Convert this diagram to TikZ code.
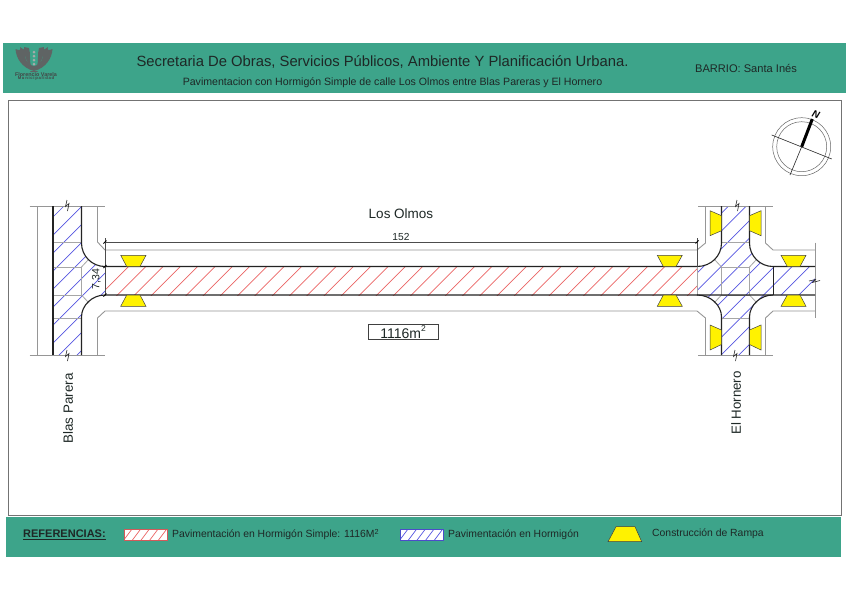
\documentclass[tikz,border=0pt]{standalone}
\usepackage{fontspec}
\setmainfont{Liberation Sans}
\definecolor{band}{RGB}{61,164,138}
\definecolor{road}{RGB}{35,35,35}
\definecolor{walk}{RGB}{150,150,150}
\definecolor{hred}{RGB}{235,100,100}
\definecolor{hblue}{RGB}{85,85,225}
\definecolor{ink}{RGB}{30,40,38}
\definecolor{logo}{RGB}{95,100,100}
\tikzset{
  bandbox/.style={fill=band,draw=none},
  roadline/.style={draw=road,line width=1.1pt},
  walkline/.style={draw=walk,line width=0.9pt},
  innerline/.style={draw=walk!85!white,line width=0.8pt},
  ramp/.style={fill=yellow,draw=black!75,line width=0.5pt,line join=miter},
  hatchred/.style={draw=hred,line width=0.7pt},
  hatchblue/.style={draw=hblue,line width=0.7pt},
  label/.style={inner sep=0pt,text=ink},
  dimline/.style={draw=black!70,line width=0.6pt},
  breakline/.style={draw=black!85,line width=0.6pt},
}
\begin{document}
\begin{tikzpicture}[x=1pt,y=-1pt]
\useasboundingbox (0,0) rectangle (849,600);
\fill[white] (0,0) rectangle (849,600);
% bands and frame
\path[bandbox] (3,42.5) rectangle (846,92.5);
\path[bandbox] (6,517) rectangle (841,556.5);
\draw[draw=black!55,line width=0.9pt] (8,100) rectangle (841,515);
% header text
\node[label,font=\fontsize{14.8}{17}\selectfont] (title) at (382.5,62) {Secretaria De Obras, Servicios Públicos, Ambiente Y Planificación Urbana.};
\node[label,font=\fontsize{10.6}{12}\selectfont] (subtitle) at (392.5,83) {Pavimentacion con Hormigón Simple de calle Los Olmos entre Blas Pareras y El Hornero};
\node[label,font=\fontsize{11.1}{13}\selectfont] (barrio) at (746,68) {BARRIO: Santa Inés};
% logo
\fill[logo] (34,66) .. controls (27,65) and (24,58) .. (25,50) .. controls (23,49) and (21,48) .. (20,47) .. controls (21,50) and (20,51) .. (15.5,49) .. controls (16,58) and (22,68) .. (34,71) .. controls (46,68) and (52,58) .. (52.5,49) .. controls (48,51) and (47,50) .. (48,47) .. controls (47,48) and (45,49) .. (43,50) .. controls (44,58) and (41,65) .. (34,66) -- cycle;
\fill[logo] (24,47) -- (29,48) .. controls (31,55) and (29,60) .. (31,66) .. controls (26,62) and (24,55) .. (24,47) -- cycle;
\fill[logo] (44,47) -- (39,48) .. controls (37,55) and (39,60) .. (37,66) .. controls (42,62) and (44,55) .. (44,47) -- cycle;
\fill[logo] (30,71) -- (38,71) -- (37,72) .. controls (35,72) and (33,72) .. (31,72) -- cycle;
\foreach \yy in {52,56,60,64}{\fill[logo!55!white] (34,\yy) circle (1.5);}
\node[label,text=logo!70!black,font=\bfseries\fontsize{5.4}{6}\selectfont] (logoa) at (36,74.5) {Florencio Varela};
\node[label,text=logo!70!black,font=\bfseries\fontsize{4.2}{5}\selectfont] (logob) at (36,78.5) {M\,u\,n\,i\,c\,i\,p\,a\,l\,i\,d\,a\,d};
% red hatch
\begin{scope}
\clip (105,266.5) rectangle (697,295);
\foreach \k in {0,...,36}{\draw[hatchred] ({395+17.3*\k-260},260) -- ({395+17.3*\k-300},300);}
\end{scope}
% left street blue hatch
\begin{scope}
\clip (53,206) -- (81.5,206) -- (81.5,243) .. controls (81.5,256) and (92,266.5) .. (105,266.5) -- (105,295) .. controls (92,295) and (81.5,305.5) .. (81.5,317) -- (81.5,355) -- (53,355) -- cycle;
\foreach \k in {-1,...,12}{\draw[hatchblue] ({288+18*\k-200},200) -- ({288+18*\k-360},360);}
\end{scope}
% right cross blue hatch
\begin{scope}
\clip (721.5,206) -- (749.5,206) -- (749.5,243) .. controls (749.5,256) and (760,266.5) .. (773,266.5) -- (815,266.5) -- (815,295) -- (773,295) .. controls (760,295) and (749.5,305.5) .. (749.5,317) -- (749.5,355) -- (721.5,355) -- (721.5,317) .. controls (721.5,305.5) and (711,295) .. (697,295) -- (697,266.5) .. controls (711,266.5) and (721.5,256) .. (721.5,243) -- cycle;
\foreach \k in {-12,...,14}{\draw[hatchblue] ({970+17.7*\k-200},200) -- ({970+17.7*\k-360},360);}
\end{scope}
% sidewalk lines
\draw[walkline] (29.5,206) -- (105,206);
\draw[walkline] (29.5,355) -- (105,355);
\draw[walkline] (37,206) -- (37,355);
\draw[walkline] (97.5,206) -- (97.5,242) -- (105,250) -- (697,250) -- (705.5,243) -- (705.5,206);
\draw[walkline] (97.5,355) -- (97.5,318) -- (105,311) -- (697,311) -- (705.5,318) -- (705.5,355);
\draw[walkline] (698,206) -- (773,206);
\draw[walkline] (698,355) -- (773,355);
\draw[walkline] (765.5,206) -- (765.5,243) -- (773,250) -- (815,250);
\draw[walkline] (765.5,355) -- (765.5,318) -- (773,311) -- (815,311);
\draw[walkline] (815,242.5) -- (815,318);
% inner slab joints
\draw[innerline] (53,242.5) -- (81.5,242.5);
\draw[innerline] (53,318) -- (81.5,318);
\draw[innerline] (53,267) -- (81.5,267) -- (81.5,295) -- (53,295);
\draw[innerline] (81.5,267) -- (89,259);
\draw[innerline] (81.5,295) -- (89,303);
\draw[innerline] (721.5,242.5) -- (749.5,242.5);
\draw[innerline] (721.5,318) -- (749.5,318);
\draw[innerline] (721.5,267) rectangle (749.5,295);
\draw[innerline] (697,266.5) -- (697,295);
\draw[innerline] (721.5,267) -- (714,259);
\draw[innerline] (749.5,267) -- (757,259);
\draw[innerline] (721.5,295) -- (714,303);
\draw[innerline] (749.5,295) -- (757,303);
% road edges
\draw[roadline] (53,206) -- (53,355);
\draw[roadline] (81.5,206) -- (81.5,243) .. controls (81.5,256) and (92,266.5) .. (105,266.5) -- (697,266.5);
\draw[roadline] (81.5,355) -- (81.5,317) .. controls (81.5,305.5) and (92,295) .. (105,295) -- (815,295);
\draw[roadline] (721.5,206) -- (721.5,243) .. controls (721.5,256) and (711,266.5) .. (697,266.5);
\draw[roadline] (721.5,355) -- (721.5,317) .. controls (721.5,305.5) and (711,295) .. (697,295);
\draw[roadline] (749.5,206) -- (749.5,243) .. controls (749.5,256) and (760,266.5) .. (773,266.5) -- (815,266.5);
\draw[roadline] (749.5,355) -- (749.5,317) .. controls (749.5,305.5) and (760,295) .. (773,295);
\draw[draw=road,line width=0.8pt] (773,266.5) -- (773,295);
% ramps
\draw[ramp] (120.7,255.3) -- (146,255.3) -- (140,266.5) -- (126.7,266.5) -- cycle;
\draw[ramp] (120.7,306.3) -- (146,306.3) -- (140,295) -- (126.7,295) -- cycle;
\draw[ramp] (657.3,255.3) -- (682.3,255.3) -- (676,266.5) -- (663.3,266.5) -- cycle;
\draw[ramp] (657.3,306.3) -- (682.3,306.3) -- (676,295) -- (663.3,295) -- cycle;
\draw[ramp] (781,255.3) -- (806,255.3) -- (800,266.5) -- (787.3,266.5) -- cycle;
\draw[ramp] (781,306.3) -- (806,306.3) -- (800,295) -- (787.3,295) -- cycle;
\draw[ramp] (710,210.7) -- (710,235.7) -- (721.5,230.7) -- (721.5,215.7) -- cycle;
\draw[ramp] (761,210.7) -- (761,235.7) -- (749.5,230.7) -- (749.5,215.7) -- cycle;
\draw[ramp] (710,325) -- (710,350) -- (721.5,344.5) -- (721.5,330) -- cycle;
\draw[ramp] (761,325) -- (761,350) -- (749.5,344.5) -- (749.5,330) -- cycle;
% dimensions
\draw[dimline] (105,242.5) -- (697,242.5);
\draw[dimline] (105,238) -- (105,296);
\draw[dimline] (697,238) -- (697,266.5);
\draw[draw=black,line width=0.9pt] (103.5,243.5) -- (106.5,240.5);
\draw[draw=black,line width=0.9pt] (695.5,243.5) -- (698.5,240.5);
\draw[draw=black,line width=0.9pt] (103.5,268) -- (106.5,265);
\draw[draw=black,line width=0.9pt] (103.5,296.5) -- (106.5,293.5);
% break marks
\draw[breakline] (67,200) -- (65.5,206.5) -- (69,203.5) -- (67.5,211);
\draw[breakline] (67,350) -- (65.5,356.5) -- (69,353.5) -- (67.5,361);
\draw[breakline] (737,200) -- (735.5,206.5) -- (739,203.5) -- (737.5,211);
\draw[breakline] (735,350) -- (733.5,356.5) -- (737,353.5) -- (735.5,361);
\draw[breakline] (809,281) -- (815.5,279.5) -- (812.5,282.5) -- (820,280.5);
% compass
\draw[draw=black!60,line width=0.5pt] (801.7,146.7) circle (29);
\draw[draw=black!60,line width=0.5pt] (801.7,146.7) circle (25);
\draw[draw=black!85,line width=0.6pt] (771.7,135) -- (831.7,159);
\draw[draw=black!85,line width=0.6pt] (801.7,146.7) -- (790,175);
\draw[draw=black,line width=3pt] (801.7,146.7) -- (812.3,119);
\node[label,text=black,font=\bfseries\itshape\fontsize{10}{11}\selectfont,rotate=-20] (north) at (816,114) {N};
% drawing labels
\node[label,font=\fontsize{13.5}{15}\selectfont] (olmos) at (401,214) {Los Olmos};
\node[label,font=\fontsize{10.2}{12}\selectfont] (len) at (401,237) {152};
\node[label,font=\fontsize{10.5}{12}\selectfont,rotate=90] (wid) at (96.5,279) {7,34};
\node[draw=black!75,line width=0.7pt,fill=white,minimum width=70pt,minimum height=15.5pt,inner sep=0pt,text=ink,font=\fontsize{14}{15}\selectfont] (area) at (403,332) {1116m\raisebox{1ex}{\fontsize{8.5}{9}\selectfont 2}};
\node[label,font=\fontsize{13.4}{15}\selectfont,rotate=90] (blas) at (68,408.5) {Blas Parera};
\node[label,font=\fontsize{13.3}{15}\selectfont,rotate=90] (horn) at (736,403) {El Hornero};
% legend
\node[label,anchor=west,font=\bfseries\fontsize{11}{13}\selectfont] (ref) at (23,534.5) {\underline{REFERENCIAS:}};
\fill[white] (124.3,529.3) rectangle (167.7,540);
\begin{scope}
\clip (124.3,529.3) rectangle (167.7,540);
\foreach \k in {0,...,7}{\draw[hatchred] ({120+8.7*\k+15},525) -- ({120+8.7*\k},545);}
\end{scope}
\draw[draw=hred!90!black,line width=0.7pt] (124.3,529.3) rectangle (167.7,540);
\fill[white] (400,529.3) rectangle (443.3,540);
\begin{scope}
\clip (400,529.3) rectangle (443.3,540);
\foreach \k in {0,...,7}{\draw[hatchblue] ({396+8.7*\k+15},525) -- ({396+8.7*\k},545);}
\end{scope}
\draw[draw=hblue!90!black,line width=0.7pt] (400,529.3) rectangle (443.3,540);
\node[label,anchor=west,font=\fontsize{10.4}{12}\selectfont] (lega) at (172,534.5) {Pavimentación en Hormigón Simple: 1116M\textsuperscript{2}};
\node[label,anchor=west,font=\fontsize{10.4}{12}\selectfont] (legb) at (448,534.5) {Pavimentación en Hormigón};
\draw[ramp] (616,526.7) -- (635,526.7) -- (641.7,541.7) -- (608,541.7) -- cycle;
\node[label,anchor=west,font=\fontsize{10.4}{12}\selectfont] (legc) at (652,534) {Construcción de Rampa};
\end{tikzpicture}
\end{document}
